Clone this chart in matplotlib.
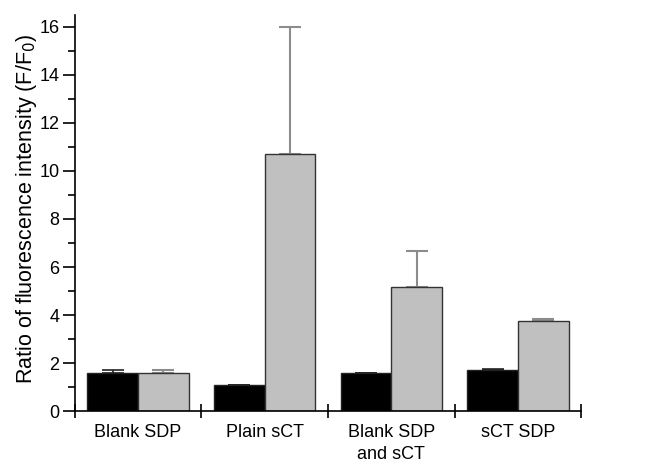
import numpy as np
import matplotlib
matplotlib.use('Agg')
import matplotlib.pyplot as plt
from matplotlib.ticker import MultipleLocator, FixedLocator, NullFormatter

plt.rcParams['font.family'] = ['Liberation Sans', 'DejaVu Sans']

# data
groups = ['Blank SDP', 'Plain sCT', 'Blank SDP\nand sCT', 'sCT SDP']
black_vals = [1.6, 1.07, 1.6, 1.7]
black_err = [0.1, 0.0, 0.0, 0.05]
gray_vals = [1.6, 10.7, 5.15, 3.75]
gray_err = [0.1, 5.3, 1.52, 0.1]

fig = plt.figure(figsize=(6.56, 4.63), dpi=100)
ax = fig.add_axes([0.114, 0.112, 0.772, 0.856])

x = np.arange(len(groups)) + 0.5
w = 0.4

ax.bar(x - w / 2, black_vals, w, color='black', edgecolor='#222222', linewidth=1.0, zorder=2)
ax.bar(x + w / 2, gray_vals, w, color='#c0c0c0', edgecolor='#333333', linewidth=1.0, zorder=2)

ax.errorbar(x - w / 2, black_vals, yerr=[np.zeros(4), black_err], fmt='none',
            ecolor='#222222', elinewidth=1.2, capsize=8, capthick=1.2, zorder=1)
ax.errorbar(x + w / 2, gray_vals, yerr=[np.zeros(4), gray_err], fmt='none',
            ecolor='#8c8c8c', elinewidth=1.5, capsize=8, capthick=1.5, zorder=1)

ax.set_xlim(0, 4)
ax.set_ylim(0, 16.5)

ax.yaxis.set_major_locator(MultipleLocator(2))
ax.yaxis.set_minor_locator(MultipleLocator(1))
ax.tick_params(axis='y', which='major', direction='out', length=9, width=1.2, labelsize=13, pad=2)
ax.tick_params(axis='y', which='minor', direction='out', length=5, width=1.2)

ax.xaxis.set_major_locator(FixedLocator([0, 1, 2, 3, 4]))
ax.xaxis.set_major_formatter(NullFormatter())
ax.xaxis.set_minor_locator(FixedLocator(x))
ax.set_xticklabels(groups, minor=True)
ax.tick_params(axis='x', which='major', direction='inout', length=10, width=1.2)
ax.tick_params(axis='x', which='minor', length=0, labelsize=13, pad=9)
for lbl in ax.get_xticklabels(minor=True):
    lbl.set_linespacing(1.42)
    lbl.set_verticalalignment('top')

for side in ['top', 'right']:
    ax.spines[side].set_visible(False)
for side in ['left', 'bottom']:
    ax.spines[side].set_linewidth(1.2)

ax.set_ylabel('Ratio of fluorescence intensity (F/F$_0$)', fontsize=15.5)
ax.yaxis.set_label_coords(-0.071, 0.51)

fig.savefig('out.png', dpi=100)
